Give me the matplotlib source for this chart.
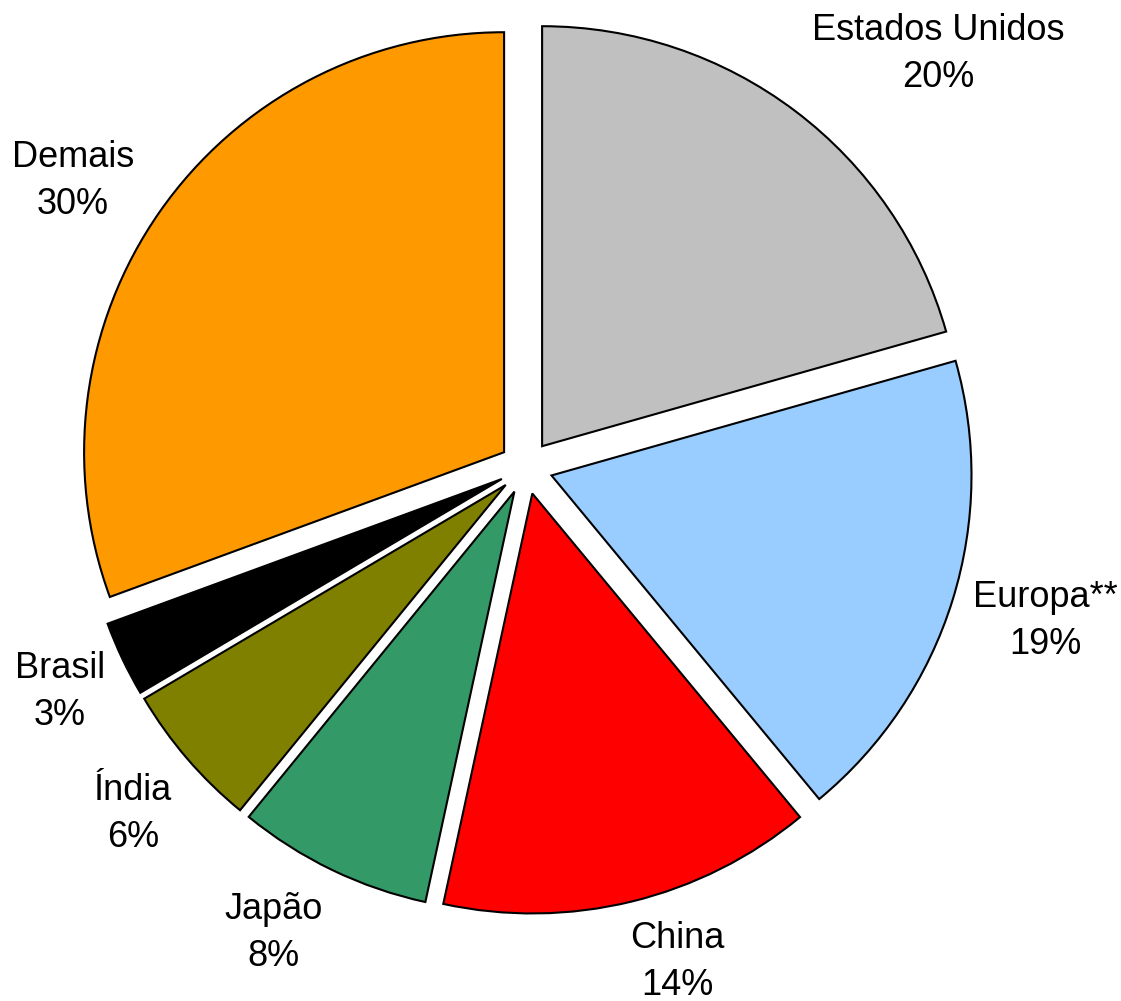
import numpy as np
import matplotlib.pyplot as plt

plt.rcParams['font.family'] = ['Liberation Sans', 'DejaVu Sans']

# Data
regions = ['Estados Unidos', 'Europa**', 'China', 'Japão', 'Índia', 'Brasil', 'Demais']
shares = [20.6, 18.4, 14.4, 7.5, 5.6, 2.9, 30.6]       # slice sizes
share_labels = ['20%', '19%', '14%', '8%', '6%', '3%', '30%']
colors = ['#C0C0C0', '#99CCFF', '#FF0000', '#339966', '#808000', '#000000', '#FF9900']

# label placement (angle in degrees, radius in pie radii)
label_angle = [45.1, -16.5, -73.0, -118.5, -138.6, -154.3, 147.7]
label_radius = [1.391, 1.289, 1.231, 1.261, 1.248, 1.232, 1.276]

fig = plt.figure(figsize=(11.21, 10.01), dpi=100)
ax = fig.add_axes([0, 0, 1, 1])

wedges, _ = ax.pie(shares, colors=colors, startangle=90, counterclock=False,
                   explode=[0.0636] * len(shares),
                   wedgeprops=dict(edgecolor='black', linewidth=1.5))

for name, lab, ang, r in zip(regions, share_labels, label_angle, label_radius):
    a = np.deg2rad(ang)
    ax.text(r * np.cos(a), r * np.sin(a), f'{name}\n{lab}', ha='center', va='center',
            fontsize=26, linespacing=1.45)

ax.set_xlim(-1.2524, 1.4167)
ax.set_ylim(-1.2702, 1.1131)
ax.set_aspect('equal')
ax.axis('off')

fig.savefig('out.png', dpi=100)
